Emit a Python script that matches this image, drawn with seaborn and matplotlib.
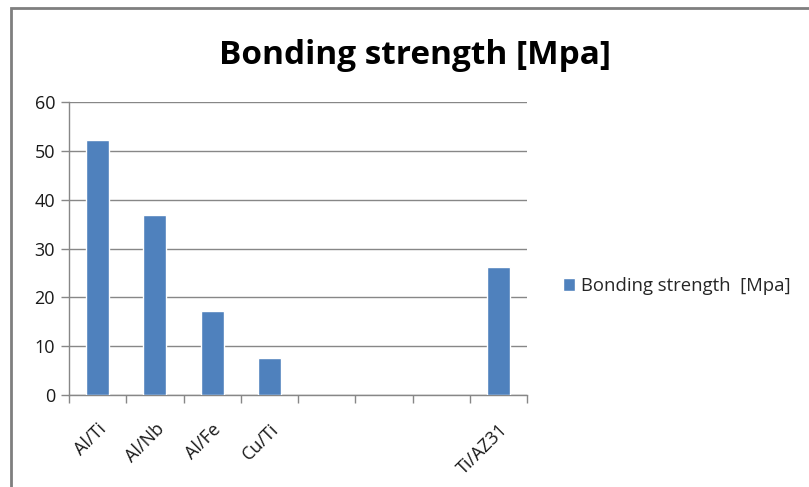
import matplotlib
matplotlib.use("Agg")
import matplotlib.pyplot as plt
import seaborn as sns
import pandas as pd
from matplotlib.patches import Rectangle

categories = ["Al/Ti", "Al/Nb", "Al/Fe", "Cu/Ti", "c5", "c6", "c7", "Ti/AZ31"]
tick_labels = ["Al/Ti", "Al/Nb", "Al/Fe", "Cu/Ti", "", "", "", "Ti/AZ31"]
present = ["Al/Ti", "Al/Nb", "Al/Fe", "Cu/Ti", "Ti/AZ31"]
values = [52.3, 36.9, 17.2, 7.5, 26.2]
series_name = "Bonding strength  [Mpa]"
title = "Bonding strength [Mpa]"

sns.set_theme(style="white")
plt.rcParams['font.family'] = ['Open Sans', 'DejaVu Sans']

df = pd.DataFrame({"cat": present, "val": values})

fig = plt.figure(figsize=(8.09, 4.87), dpi=100)
ax = fig.add_axes([69/809, 1-395/487, (527-69)/809, (395-102)/487])

sns.barplot(data=df, x="cat", y="val", order=categories, color="#4F81BD",
            saturation=1, width=0.4, ax=ax, label=series_name, zorder=3)

ax.set_ylim(0, 60)
ax.set_xlim(-0.5, 7.5)
ax.set_yticks(range(0, 61, 10))
ax.yaxis.grid(True, color="#878787", lw=1, zorder=0)
ax.set_xlabel("")
ax.set_ylabel("")
for s in ["top", "right"]:
    ax.spines[s].set_visible(False)
for s in ["left", "bottom"]:
    ax.spines[s].set_color("#878787")
    ax.spines[s].set_linewidth(1)

ax.set_xticks(range(len(categories)))
ax.set_xticklabels(tick_labels, rotation=45, ha="right", rotation_mode="anchor",
                   fontsize=13, color="#1a1a1a")
ax.set_xticks([i - 0.5 for i in range(len(categories) + 1)], minor=True)
ax.tick_params(axis="x", which="major", length=0, pad=18)
ax.tick_params(axis="x", which="minor", length=6, color="#878787", width=1, bottom=True)
ax.tick_params(axis="y", which="major", length=6, color="#878787", width=1, left=True,
               labelsize=13, labelcolor="#1a1a1a", pad=4)

leg = ax.legend(loc="center left", bbox_to_anchor=(546/809, 1-286/487),
                bbox_transform=fig.transFigure, frameon=False, fontsize=13.3,
                handlelength=0.65, handleheight=0.65, handletextpad=0.35)

fig.text(415/809, 1-55/487, title, ha="center", va="center", fontsize=24,
         fontweight="bold", color="black")

fig.patches.append(Rectangle((11/809, -0.1), 1.0, 1-8/487+0.1, transform=fig.transFigure,
                             fill=False, edgecolor="#7f7f7f", lw=2, figure=fig))

fig.savefig("out.png", dpi=100)
